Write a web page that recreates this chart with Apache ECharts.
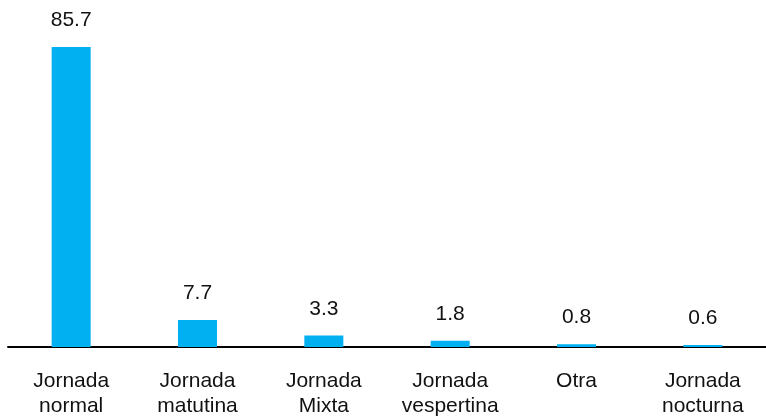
<!DOCTYPE html>
<html>
<head>
<meta charset="utf-8">
<script src="https://cdn.jsdelivr.net/npm/echarts@6/dist/echarts.min.js"></script>
<style>
html,body{margin:0;padding:0;background:#fff;}
#c{width:766px;height:419px;}
</style>
</head>
<body>
<div id="c"></div>
<script>
const categories = ["Jornada\nnormal", "Jornada\nmatutina", "Jornada\nMixta", "Jornada\nvespertina", "Otra", "Jornada\nnocturna"];
const values = [85.7, 7.7, 3.3, 1.8, 0.8, 0.6];

const FONT = "'Liberation Sans', Arial, sans-serif";
const chart = echarts.init(document.getElementById('c'), null, {renderer: 'canvas'});
chart.setOption({
  animation: false,
  backgroundColor: '#ffffff',
  grid: {left: 8, width: 765, top: 47, bottom: 69, containLabel: false},
  xAxis: {
    type: 'category',
    data: categories,
    axisLine: {show: true, lineStyle: {color: '#000', width: 2}},
    axisTick: {show: false},
    axisLabel: {
      color: '#111', fontSize: 21, fontFamily: FONT, margin: 22, lineHeight: 25, interval: 0
    }
  },
  yAxis: {
    type: 'value', min: 0, max: 85.7, show: false,
    splitLine: {show: false}
  },
  series: [{
    type: 'bar',
    data: values,
    barWidth: 39,
    itemStyle: {color: '#00B0F0'},
    label: {
      show: true, position: 'top', distance: 16,
      color: '#111', fontSize: 21, fontFamily: FONT,
      formatter: p => p.value.toFixed(1)
    }
  }]
});
</script>
</body>
</html>
